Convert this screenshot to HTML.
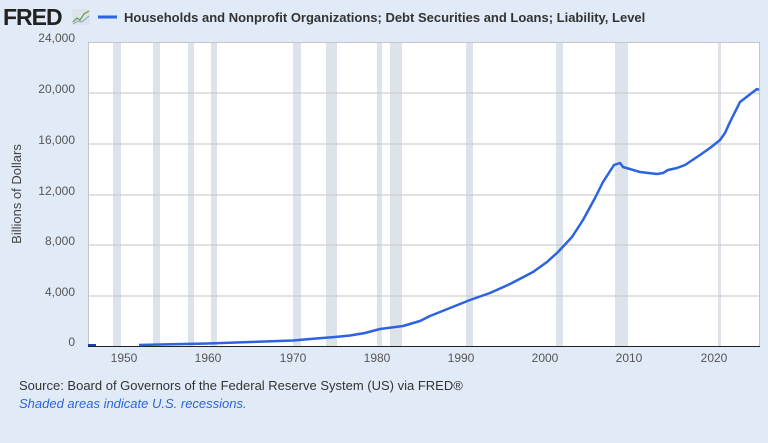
<!DOCTYPE html>
<html><head><meta charset="utf-8"><style>
body{margin:0;width:768px;height:438px;background:#e1ebf7;font-family:"Liberation Sans",sans-serif;overflow:hidden}
</style></head><body>
<svg width="768" height="438" xmlns="http://www.w3.org/2000/svg" font-family="Liberation Sans, sans-serif">
<rect width="768" height="438" fill="#e1ebf7"/>
<text x="3" y="25" font-size="23" font-weight="bold" fill="#222" letter-spacing="-1">FRED</text>
<rect x="72" y="9" width="18" height="16" fill="#dde3ea"/>
<polyline points="73,22 77,18 80,20 84,14 89,11" fill="none" stroke="#6a9a3c" stroke-width="1.2"/>
<polyline points="73,24 78,21 82,22 89,16" fill="none" stroke="#7aa0c8" stroke-width="1"/>
<line x1="98" y1="17" x2="117" y2="17" stroke="#2b63e0" stroke-width="3"/>
<text x="124" y="22" font-size="13" font-weight="bold" fill="#333">Households and Nonprofit Organizations; Debt Securities and Loans; Liability, Level</text>
<rect x="88" y="42" width="672" height="304" fill="#fff"/>
<g fill="#dde3ea">
<rect x="113" y="42" width="8" height="304"/>
<rect x="153" y="42" width="7" height="304"/>
<rect x="188" y="42" width="6" height="304"/>
<rect x="211" y="42" width="6" height="304"/>
<rect x="293" y="42" width="8" height="304"/>
<rect x="326" y="42" width="11" height="304"/>
<rect x="377" y="42" width="5" height="304"/>
<rect x="390" y="42" width="12" height="304"/>
<rect x="466" y="42" width="7" height="304"/>
<rect x="556" y="42" width="7" height="304"/>
<rect x="615" y="42" width="13" height="304"/>
<rect x="718" y="42" width="3" height="304"/>
</g>
<g stroke="#c6c6c6" stroke-width="1" fill="none">
<line x1="88" y1="42.5" x2="760" y2="42.5"/>
<line x1="88" y1="93" x2="760" y2="93"/>
<line x1="88" y1="144" x2="760" y2="144"/>
<line x1="88" y1="195" x2="760" y2="195"/>
<line x1="88" y1="245" x2="760" y2="245"/>
<line x1="88" y1="296" x2="760" y2="296"/>
<line x1="88.5" y1="42" x2="88.5" y2="346"/>
<line x1="759.5" y1="42" x2="759.5" y2="346"/>
</g>
<line x1="88" y1="346.5" x2="760" y2="346.5" stroke="#222" stroke-width="1"/>
<g font-size="12" fill="#555" text-anchor="end">
<text x="75" y="42">24,000</text><text x="75" y="93">20,000</text><text x="75" y="144">16,000</text>
<text x="75" y="195">12,000</text><text x="75" y="245">8,000</text><text x="75" y="296">4,000</text><text x="75" y="346">0</text>
</g>
<g font-size="12" fill="#555" text-anchor="middle">
<text x="124" y="362">1950</text><text x="208" y="362">1960</text><text x="293" y="362">1970</text><text x="377" y="362">1980</text>
<text x="461" y="362">1990</text><text x="545" y="362">2000</text><text x="629" y="362">2010</text><text x="714" y="362">2020</text>
</g>
<text transform="translate(21,194) rotate(-90)" font-size="13" fill="#444" text-anchor="middle">Billions of Dollars</text>
<line x1="88" y1="345" x2="96" y2="345" stroke="#1c3fa8" stroke-width="2"/>
<polyline fill="none" stroke="#2b63e0" stroke-width="2.5" stroke-linejoin="round" points="139,345 160,344.5 208,343.5 250,342 293,340.5 310,339 335,337 350,335.5 365,333 380,329 403,326 420,321 430,316 450,308 470,300 490,293 510,284 533,272 547,262 558,252 572,237 583,220 595,198 603,182 614,165 620,163 623,167 640,172 657,174 663,173 668,170 677,168 685,165 700,155 710,148 720,140 725,133 730,122 740,102 753,92 757,89 759,90"/>
<text x="19" y="390" font-size="13" fill="#333">Source: Board of Governors of the Federal Reserve System (US) via FRED®</text>
<text x="19" y="408" font-size="13" fill="#2b63e0" font-style="italic">Shaded areas indicate U.S. recessions.</text>
</svg>
</body></html>
